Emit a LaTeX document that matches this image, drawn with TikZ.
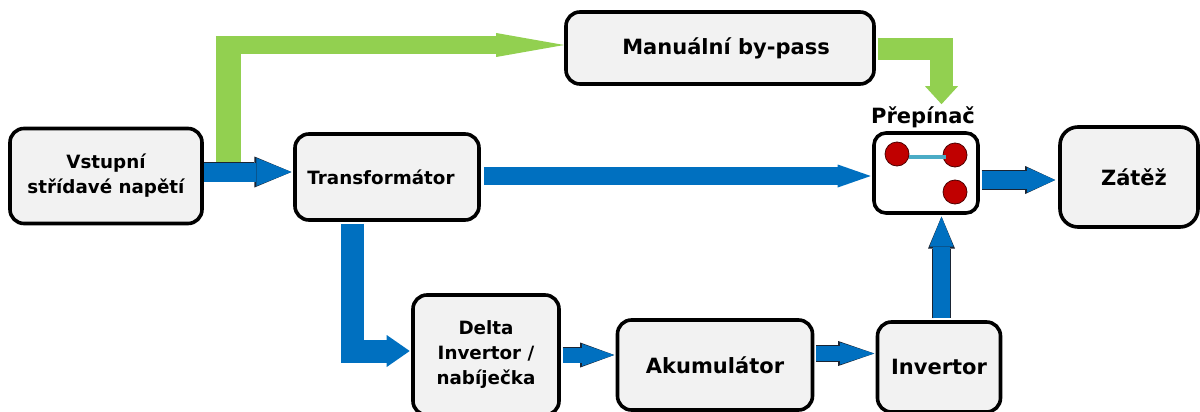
\documentclass[tikz,border=0pt]{standalone}
\usepackage{fontspec}
\setmainfont{DejaVu Sans}
\usetikzlibrary{arrows.meta,calc}

\definecolor{boxfill}{HTML}{F2F2F2}
\definecolor{flowblue}{HTML}{0070C0}
\definecolor{bypassgreen}{HTML}{92D050}
\definecolor{contactred}{HTML}{C00000}
\definecolor{linkteal}{HTML}{4BACC6}
\definecolor{edgedark}{HTML}{1A2433}

\tikzset{
  unit/.style={draw=black, line width=3.6pt, fill=boxfill, rounded corners=14pt,
    align=center, inner sep=0pt, text=black,
    font=\bfseries\fontsize{18.3}{25}\selectfont},
  bigtext/.style={font=\bfseries\fontsize{21}{25}\selectfont},
  contact/.style={circle, fill=contactred, draw=black!60!contactred, line width=0.8pt,
    minimum size=24pt, inner sep=0pt},
  % plain block arrow: shaft width, head length, head width
  blk/.style n args={4}{draw=#1, line width=#2,
    -{Triangle[length=#3, width=#4, line width=0pt]}},
  % block arrow with a thin dark rim
  rim/.style n args={3}{preaction={draw=edgedark, line width=#1,
    -{Triangle[length=#2, width=#3, line width=0pt]}}},
}

\begin{document}
\begin{tikzpicture}[x=1pt, y=-1pt]
\useasboundingbox (0,0) rectangle (1200,412);

% ---- blocks ----
\node[unit, minimum width=192pt, minimum height=95pt] (vst) at (106,176)
  {Vstupní\\střídavé napětí};
\node[unit, minimum width=184pt, minimum height=86pt] (tra) at (387,177)
  {Transformátor\hspace*{12pt}};
\node[unit, bigtext, minimum width=308pt, minimum height=72pt] (man) at (720,48)
  {\hspace*{12pt}Manuální by-pass};
\node[unit, fill=white, rounded corners=12pt, minimum width=104pt, minimum height=80pt]
  (pre) at (926,173) {};
\node[bigtext, anchor=base] (prelab) at (923,124) {Přepínač};
\node[unit, bigtext, rounded corners=18pt, minimum width=138pt, minimum height=100pt]
  (zat) at (1129,177) {\hspace*{10pt}Zátěž};
\node[unit, minimum width=146pt, minimum height=120pt] (del) at (486,355)
  {Delta\\Invertor /\\nabíječka};
\node[unit, bigtext, minimum width=195pt, minimum height=90pt] (aku) at (715,365)
  {Akumulátor};
\node[unit, bigtext, minimum width=123pt, minimum height=90pt] (inv) at (939,367)
  {Invertor};

% ---- switch contacts ----
\node[contact] (c1) at (897,154) {};
\node[contact] (c2) at (955,155) {};
\node[contact] (c3) at (955,192) {};
\draw[linkteal, line width=3.6pt] ([yshift=-3pt]c1.east) -- ([xshift=-9pt,yshift=-2pt]c2.center);

% ---- connection points ----
\coordinate (a1) at ([yshift=4pt]vst.east);
\coordinate (a2) at ([xshift=3pt,yshift=1pt]tra.east);
\coordinate (a3) at ([xshift=1.8pt,yshift=-7pt]pre.east);
\coordinate (a4) at ([xshift=-35pt]tra.south);
\coordinate (a4e) at ([yshift=4pt]del.west);
\coordinate (a5) at ([xshift=1.8pt]del.east);
\coordinate (a6) at ([xshift=1.8pt,yshift=11.5pt]aku.east);
\coordinate (a7) at ([xshift=2.5pt,yshift=1.8pt]inv.north);
\coordinate (g1s) at ([xshift=24.5pt,yshift=13pt]vst.east);
\coordinate (g1e) at ([yshift=3pt]man.west);
\coordinate (g2s) at ([xshift=1.8pt,yshift=-1pt]man.east);
\coordinate (g2e) at ([xshift=15.5pt,yshift=27pt]pre.north);

% ---- manual by-pass path (green) ----
\draw[bypassgreen, line width=25pt] (g1s) -- (g1s |- g1e);
\draw[blk={bypassgreen}{17.5pt}{68pt}{24pt}]
  ($(g1s |- g1e)+(-12.5,0)$) -- (g1e);
\draw[blk={bypassgreen}{22.5pt}{18pt}{33pt}] (g2s) -| (g2e);

% ---- main power path (blue) ----
\draw[rim={20.4pt}{37pt}{31pt}, blk={flowblue}{19pt}{35pt}{28pt}, shorten >=1.8pt]
  (a1) -- (a1 -| tra.west);
\draw[blk={flowblue}{18pt}{33pt}{23pt}, shorten >=1.5pt] (a2) -- (a2 -| pre.west);
\draw[rim={19.4pt}{30pt}{28pt}, blk={flowblue}{18pt}{28pt}{25pt}, shorten >=3pt]
  (a3) -- (a3 -| zat.west);
\draw[blk={flowblue}{23pt}{23pt}{32pt}, shorten <=1.8pt, shorten >=1.5pt] (a4) |- (a4e);
\draw[rim={16.4pt}{34pt}{25pt}, blk={flowblue}{15pt}{32pt}{22pt}, shorten >=1.5pt]
  (a5) -- (a5 -| aku.west);
\draw[rim={16.4pt}{36pt}{25pt}, blk={flowblue}{15pt}{34pt}{22pt}, shorten >=1.5pt]
  (a6) -- (a6 -| inv.west);
\draw[rim={18.4pt}{32pt}{27pt}, blk={flowblue}{17pt}{30pt}{24pt}, shorten >=1.8pt]
  (a7) -- (a7 |- pre.south);
\end{tikzpicture}
\end{document}
